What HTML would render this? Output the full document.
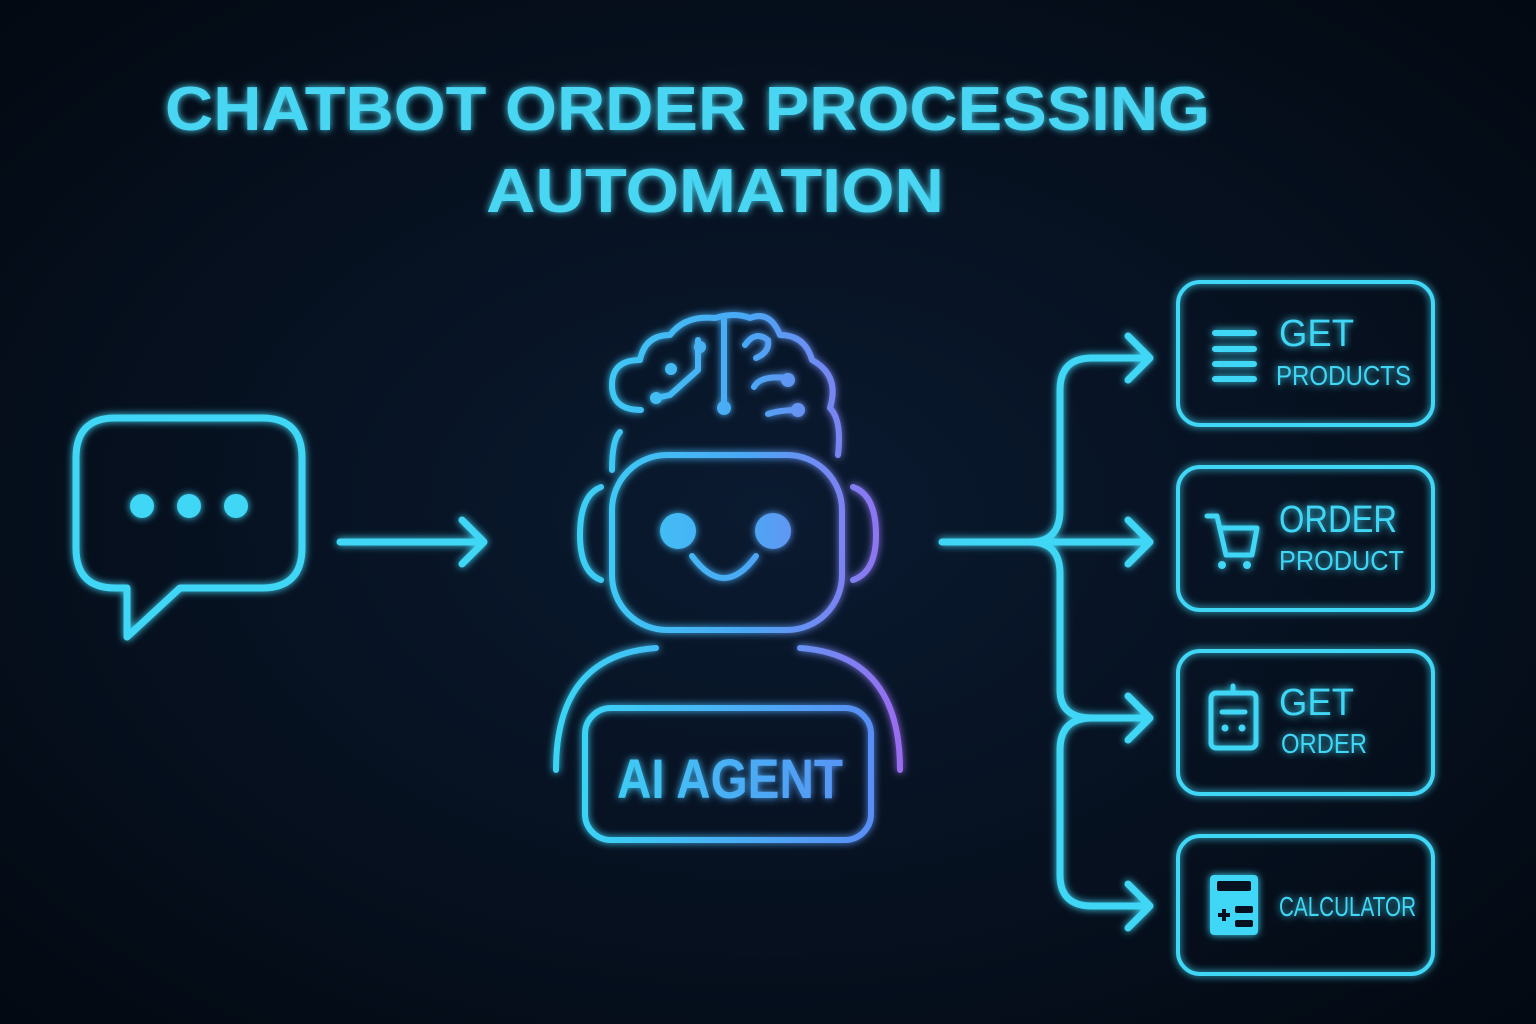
<!DOCTYPE html>
<html><head><meta charset="utf-8"><style>
html,body{margin:0;padding:0;background:#050d1a;}
svg{display:block}
text{font-family:"Liberation Sans",sans-serif;}
</style></head><body>
<svg width="1536" height="1024" viewBox="0 0 1536 1024" xmlns="http://www.w3.org/2000/svg">
<defs>
<radialGradient id="bg" cx="50%" cy="50%" r="70%">
<stop offset="0" stop-color="#0a1a30"/><stop offset="1" stop-color="#030912"/>
</radialGradient>
<linearGradient id="rb" gradientUnits="userSpaceOnUse" x1="560" y1="0" x2="900" y2="0">
<stop offset="0" stop-color="#3ad4f5"/><stop offset="0.55" stop-color="#4aa8f5"/><stop offset="1" stop-color="#9a6cf0"/>
</linearGradient>
<linearGradient id="rb2" gradientUnits="userSpaceOnUse" x1="580" y1="0" x2="880" y2="0">
<stop offset="0" stop-color="#3ad4f5"/><stop offset="1" stop-color="#5a8cf5"/>
</linearGradient>
<filter id="glow" x="-20%" y="-20%" width="140%" height="140%">
<feGaussianBlur stdDeviation="4" result="b"/>
<feMerge><feMergeNode in="b"/><feMergeNode in="SourceGraphic"/></feMerge>
</filter>
</defs>
<rect width="1536" height="1024" fill="url(#bg)"/>

<g filter="url(#glow)" fill="#48d6f2" font-weight="bold">
<text x="165" y="130" font-size="62" textLength="1045" lengthAdjust="spacingAndGlyphs">CHATBOT ORDER PROCESSING</text>
<text x="486" y="212" font-size="62" textLength="458" lengthAdjust="spacingAndGlyphs">AUTOMATION</text>
</g>

<g filter="url(#glow)" fill="none" stroke="#3fd6f5" stroke-width="7" stroke-linecap="round" stroke-linejoin="round">
<path d="M115 418 H262 Q302 418 302 458 V548 Q302 588 262 588 H180 L127 637 V588 H115 Q76 588 76 548 V458 Q76 418 115 418 Z"/>
<path d="M340 542 H484 M462 520 L484 542 L462 564"/>
<path d="M942 542 H1030 Q1060 542 1060 510 V390 Q1060 358 1092 358 H1150 M1128 336 L1150 358 L1128 380"/>
<path d="M1030 542 H1150 M1128 520 L1150 542 L1128 564"/>
<path d="M1030 542 Q1060 542 1060 574 V690 Q1060 718 1092 718 H1150 M1128 696 L1150 718 L1128 740"/>
<path d="M1092 718 Q1060 718 1060 750 V875 Q1060 906 1092 906 H1150 M1128 884 L1150 906 L1128 928"/>
<rect x="1178" y="282" width="255" height="143" rx="22" stroke-width="4"/>
<rect x="1178" y="467" width="255" height="143" rx="22" stroke-width="4"/>
<rect x="1178" y="651" width="255" height="143" rx="22" stroke-width="4"/>
<rect x="1178" y="836" width="255" height="138" rx="22" stroke-width="4"/>
<path d="M1215 333 H1254 M1215 349 H1254 M1215 364 H1254 M1215 379 H1254" stroke-width="6"/>
<path d="M1207 516 H1217 L1226 555 H1252 L1257 528 H1220" stroke-width="5"/>
<rect x="1211" y="693" width="45" height="55" rx="5" stroke-width="5"/>
<path d="M1233 686 V693 M1222 712 H1245" stroke-width="5"/>
</g>
<g fill="#3fd6f5" filter="url(#glow)">
<circle cx="1222" cy="565" r="4"/><circle cx="1247" cy="565" r="4"/>
<circle cx="1225" cy="728" r="3.5"/><circle cx="1242" cy="728" r="3.5"/>
<rect x="1210" y="875" width="48" height="60" rx="4"/>
<circle cx="142" cy="506" r="12"/><circle cx="189" cy="506" r="12"/><circle cx="236" cy="506" r="12"/>
</g>
<g fill="#06101f">
<rect x="1217" y="881" width="34" height="10" rx="2"/>
<rect x="1235" y="906" width="18" height="7" rx="2"/><rect x="1235" y="920" width="18" height="7" rx="2"/>
<path d="M1218 913 H1230 V917 H1218Z M1222 909 H1226 V921 H1222Z"/>
</g>
<g fill="#3fd6f5" filter="url(#glow)" lengthAdjust="spacingAndGlyphs">
<text x="1279" y="346" font-size="38" textLength="75" lengthAdjust="spacingAndGlyphs">GET</text>
<text x="1276" y="385" font-size="28" textLength="135" lengthAdjust="spacingAndGlyphs">PRODUCTS</text>
<text x="1279" y="532" font-size="38" textLength="118" lengthAdjust="spacingAndGlyphs">ORDER</text>
<text x="1279" y="570" font-size="28" textLength="125" lengthAdjust="spacingAndGlyphs">PRODUCT</text>
<text x="1279" y="715" font-size="38" textLength="75" lengthAdjust="spacingAndGlyphs">GET</text>
<text x="1281" y="753" font-size="28" textLength="86" lengthAdjust="spacingAndGlyphs">ORDER</text>
<text x="1279" y="916" font-size="28" textLength="137" lengthAdjust="spacingAndGlyphs">CALCULATOR</text>
</g>

<g filter="url(#glow)" fill="none" stroke="url(#rb)" stroke-width="6" stroke-linecap="round" stroke-linejoin="round">
<rect x="612" y="455" width="230" height="175" rx="55"/>
<path d="M620 432 Q612 440 612 470"/>
<path d="M601 487 Q580 495 580 535 Q580 572 601 580"/>
<path d="M853 487 Q876 495 876 535 Q876 572 853 580"/>
<path d="M692 556 Q724 600 756 556"/>
<path d="M656 648 Q556 655 556 770"/>
<path d="M800 648 Q900 655 900 770"/>
<rect x="585" y="708" width="286" height="132" rx="26" stroke="url(#rb2)"/>
<path d="M641 410 Q612 410 612 385 Q612 360 640 360 Q645 335 670 335 Q685 315 715 318 Q735 312 750 318 Q770 310 780 335 Q805 335 812 360 Q840 375 830 408 Q842 420 838 455"/>
<path d="M724 320 V405 M698 340 V370 L670 395 L656 398"/>
<path d="M745 345 Q755 330 768 340 Q770 352 756 358 M754 387 Q760 375 787 378 M768 414 Q780 410 798 410"/>
</g>
<g fill="url(#rb)" filter="url(#glow)">
<circle cx="671" cy="369" r="6"/><circle cx="700" cy="347" r="6"/><circle cx="656" cy="398" r="6"/>
<circle cx="724" cy="408" r="7"/><circle cx="788" cy="380" r="7"/><circle cx="798" cy="410" r="7"/>
<circle cx="678" cy="531" r="18"/><circle cx="773" cy="531" r="18"/>
<text x="617" y="798" font-size="56" font-weight="bold" fill="url(#rb2)" textLength="226" lengthAdjust="spacingAndGlyphs">AI AGENT</text>
</g>
</svg>
</body></html>
